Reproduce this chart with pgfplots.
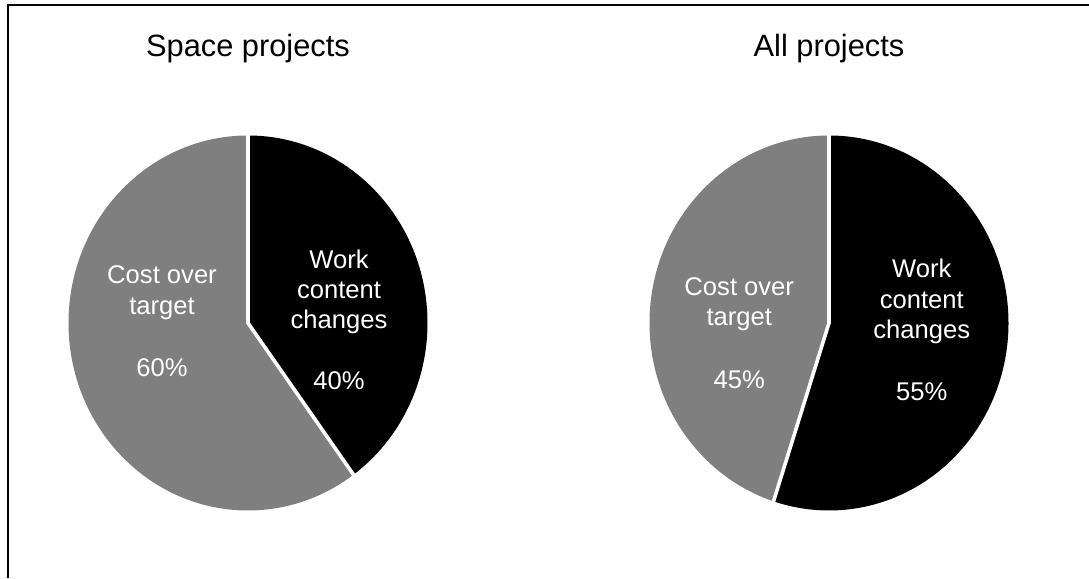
\documentclass[border=0pt]{standalone}
\usepackage{pgfplots}
\pgfplotsset{compat=1.18}
\usepackage{pgfplotstable}
\usepackage{fontspec}
\setmainfont{Liberation Sans}
\definecolor{costgray}{HTML}{7F7F7F}

% shares in percent, work content changes vs. cost over target
\pgfplotstableread{
group work cost
space 40 60
all   55 45
}\shares

\pgfplotsset{
  pie axis/.style={
    scale only axis, width=359pt, height=375pt,
    xmin=-1, xmax=1, ymin=-1, ymax=1,
    hide axis, clip=false, anchor=center},
}
\newcommand\labelfont{\fontsize{25.6}{30}\selectfont}
\newcommand\titlefont{\fontsize{30.8}{36}\selectfont}

\begin{document}
\begin{tikzpicture}
\useasboundingbox (0pt,0pt) rectangle (1089pt,578pt);
\fill[white] (0pt,0pt) rectangle (1089pt,578pt);
\draw[line width=2pt] (7.5pt,0pt) -- (7.5pt,572.5pt) -- (1089pt,572.5pt);

% end angle of the black slice (clockwise from 12 o'clock)
\pgfplotstablegetelem{0}{work}\of\shares
\pgfmathsetmacro\wA{90-3.6*\pgfplotsretval}
\pgfmathsetmacro\cA{1.01*cos(\wA)}\pgfmathsetmacro\sA{1.01*sin(\wA)}
\pgfplotstablegetelem{1}{work}\of\shares
\pgfmathsetmacro\wB{90-3.6*\pgfplotsretval}
\pgfmathsetmacro\cB{1.01*cos(\wB)}\pgfmathsetmacro\sB{1.01*sin(\wB)}

\begin{axis}[pie axis, at={(248pt,255pt)}]
\fill[costgray] (axis cs:0,0) -- (axis cs:0,1)
  arc[start angle=90, end angle=\wA+360, x radius=179.5pt, y radius=187.5pt] -- cycle;
\fill[black] (axis cs:0,0) -- (axis cs:0,1)
  arc[start angle=90, end angle=\wA, x radius=179.5pt, y radius=187.5pt] -- cycle;
\draw[white, line width=3.6pt] (axis cs:0,1.01) -- (axis cs:0,0) -- (axis cs:\cA,\sA);
\node[font=\titlefont, anchor=base] at (axis cs:0,1.419) {Space projects};
\begin{scope}[every node/.style={text=white, font=\labelfont, anchor=base}]
\node at (axis cs:-0.479,0.213) {Cost over};
\node at (axis cs:-0.479,0.043) {target};
\node at (axis cs:-0.479,-0.288) {60\%};
\node at (axis cs:0.507,0.293) {Work};
\node at (axis cs:0.507,0.133) {content};
\node at (axis cs:0.507,-0.027) {changes};
\node at (axis cs:0.507,-0.357) {40\%};
\end{scope}
\end{axis}

\begin{axis}[pie axis, at={(829pt,255pt)}]
\fill[costgray] (axis cs:0,0) -- (axis cs:0,1)
  arc[start angle=90, end angle=\wB+360, x radius=179.5pt, y radius=187.5pt] -- cycle;
\fill[black] (axis cs:0,0) -- (axis cs:0,1)
  arc[start angle=90, end angle=\wB, x radius=179.5pt, y radius=187.5pt] -- cycle;
\draw[white, line width=3.6pt] (axis cs:0,1.01) -- (axis cs:0,0) -- (axis cs:\cB,\sB);
\node[font=\titlefont, anchor=base] at (axis cs:0,1.419) {All projects};
\begin{scope}[every node/.style={text=white, font=\labelfont, anchor=base}]
\node at (axis cs:-0.5,0.149) {Cost over};
\node at (axis cs:-0.5,-0.016) {target};
\node at (axis cs:-0.5,-0.347) {45\%};
\node at (axis cs:0.517,0.24) {Work};
\node at (axis cs:0.517,0.075) {content};
\node at (axis cs:0.517,-0.085) {changes};
\node at (axis cs:0.517,-0.411) {55\%};
\end{scope}
\end{axis}
\end{tikzpicture}
\end{document}
